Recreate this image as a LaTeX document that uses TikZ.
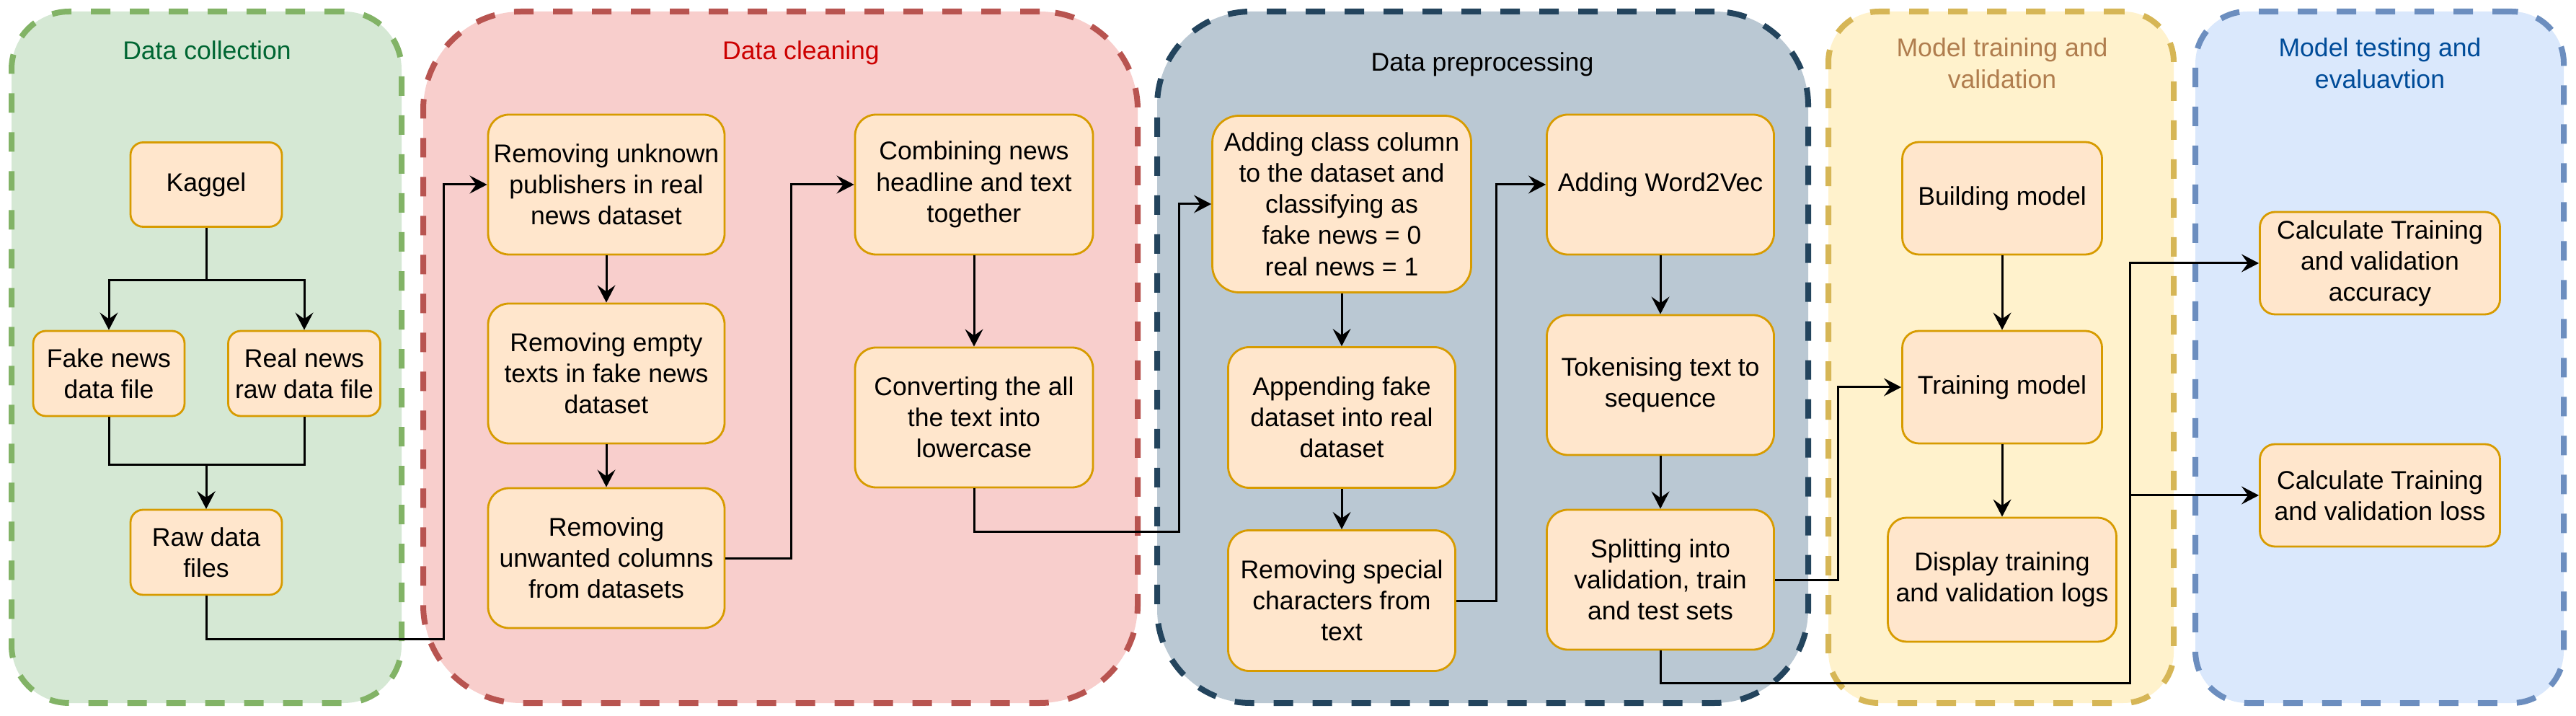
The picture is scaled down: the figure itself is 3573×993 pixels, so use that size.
\documentclass[tikz,border=0pt]{standalone}
\usepackage{fontspec}
\setmainfont{Liberation Sans}
\usetikzlibrary{arrows.meta,calc}
\definecolor{greenfill}{HTML}{D5E8D4}
\definecolor{greenline}{HTML}{82B366}
\definecolor{greentext}{HTML}{006633}
\definecolor{redfill}{HTML}{F8CECC}
\definecolor{redline}{HTML}{B85450}
\definecolor{redtext}{HTML}{CC0000}
\definecolor{dbfill}{HTML}{BAC8D3}
\definecolor{dbline}{HTML}{23445D}
\definecolor{yfill}{HTML}{FFF2CC}
\definecolor{yline}{HTML}{D6B656}
\definecolor{ytext}{HTML}{B07D4E}
\definecolor{bfill}{HTML}{DAE8FC}
\definecolor{bline}{HTML}{6C8EBF}
\definecolor{btext}{HTML}{004C99}
\definecolor{boxfill}{HTML}{FFE6CC}
\definecolor{boxline}{HTML}{D79B00}
\begin{document}
\begin{tikzpicture}[x=0.25pt,y=-0.25pt,
  lane/.style={line width=2pt, dash pattern=on 6.75pt off 6.75pt, inner sep=0pt, minimum height=239.75pt},
  box/.style={draw=boxline, fill=boxfill, line width=0.7pt, rounded corners=#1, align=center, inner sep=0pt, font=\fontsize{8.9pt}{10.8pt}\selectfont},
  arr/.style={draw=black, line width=0.75pt, -{Stealth[length=6pt,width=6.2pt,inset=2.2pt]}},
  ttl/.style={anchor=base, inner sep=0pt, font=\fontsize{8.9pt}{11pt}\selectfont}
]
\useasboundingbox[fill=white] (0,0) rectangle (3573,993);

% containers
\node[lane, draw=greenline, fill=greenfill, rounded corners=20pt, minimum width=135.25pt] (gC) at (286.5,495.5) {};
\node[lane, draw=redline, fill=redfill, rounded corners=34pt, minimum width=247.75pt] (rC) at (1082.5,495.5) {};
\node[lane, draw=dbline, fill=dbfill, rounded corners=32.5pt, minimum width=225.75pt] (dC) at (2056.5,495.5) {};
\node[lane, draw=yline, fill=yfill, rounded corners=17.5pt, minimum width=119.75pt] (yC) at (2775.5,495.5) {};
\node[lane, draw=bline, fill=bfill, rounded corners=18pt, minimum width=127.75pt] (bC) at (3300.5,495.5) {};

% titles
\node[ttl, text=greentext] (tg) at (287,83) {Data collection};
\node[ttl, text=redtext] (tr) at (1111,83) {Data cleaning};
\node[ttl, text=black] (td) at (2056,99) {Data preprocessing};
\node[ttl, text=ytext] (ty1) at (2777,79) {Model training and};
\node[ttl, text=ytext] (ty2) at (2777,123) {validation};
\node[ttl, text=btext] (tb1) at (3301,79) {Model testing and};
\node[ttl, text=btext] (tb2) at (3301,123) {evaluavtion};

% data collection
\node[box=4.4pt, minimum width=52.5pt, minimum height=29.25pt] (kag) at (286,256) {Kaggel};
\node[box=4.4pt, minimum width=52.5pt, minimum height=29.5pt] (fake) at (151,518) {Fake news\\data file};
\node[box=4.4pt, minimum width=52.75pt, minimum height=29.5pt] (real) at (422,518) {Real news\\raw data file};
\node[box=4.4pt, minimum width=52.5pt, minimum height=29.5pt] (raw) at (286,766) {Raw data\\files};

% data cleaning
\node[box=7.25pt, minimum width=82pt, minimum height=48.5pt] (r1) at (841,256) {Removing unknown\\publishers in real\\news dataset};
\node[box=7.25pt, minimum width=82pt, minimum height=48.5pt] (r2) at (841,518) {Removing empty\\texts in fake news\\dataset};
\node[box=7.25pt, minimum width=82pt, minimum height=48.5pt] (r3) at (841,774) {Removing\\unwanted columns\\from datasets};
\node[box=7.25pt, minimum width=82.5pt, minimum height=48.5pt] (r4) at (1351,256) {Combining news\\headline and text\\together};
\node[box=7.25pt, minimum width=82.5pt, minimum height=48.5pt] (r5) at (1351,579) {Converting the all\\the text into\\lowercase};

% data preprocessing
\node[box=9.25pt, minimum width=89.75pt, minimum height=61.25pt] (p1) at (1861,283) {Adding class column\\to the dataset and\\classifying as\\fake news = 0\\real news = 1};
\node[box=7.25pt, minimum width=78.75pt, minimum height=48.75pt] (p2) at (1861,579) {Appending fake\\dataset into real\\dataset};
\node[box=7.25pt, minimum width=78.75pt, minimum height=48.75pt] (p3) at (1861,833) {Removing special\\characters from\\text};
\node[box=7.25pt, minimum width=78.75pt, minimum height=48.5pt] (p4) at (2303,256) {Adding Word2Vec};
\node[box=7.25pt, minimum width=78.75pt, minimum height=48.5pt] (p5) at (2303,534) {Tokenising text to\\sequence};
\node[box=7.25pt, minimum width=78.75pt, minimum height=48.5pt] (p6) at (2303,804) {Splitting into\\validation, train\\and test sets};

% model training
\node[box=5.75pt, minimum width=69.25pt, minimum height=39pt] (m1) at (2777,275) {Building model};
\node[box=5.75pt, minimum width=69.25pt, minimum height=39pt] (m2) at (2777,537) {Training model};
\node[box=6.5pt, minimum width=79.25pt, minimum height=43pt] (m3) at (2777,804) {Display training\\and validation logs};

% model testing
\node[box=5.25pt, minimum width=83.25pt, minimum height=35.5pt] (e1) at (3301,365) {Calculate Training\\and validation\\accuracy};
\node[box=5.25pt, minimum width=83.25pt, minimum height=35.5pt] (e2) at (3301,687) {Calculate Training\\and validation loss};

% connectors
\draw[arr] (kag.south) -- ++(0,73) -| (fake.north);
\draw[arr] (kag.south) -- ++(0,73) -| (real.north);
\draw[arr] (fake.south) -- ++(0,66) -| (raw.north);
\draw[arr] (real.south) -- ++(0,66) -| (raw.north);
\draw[arr] (raw.south) -- ++(0,60) -| ($(r1.west)+(-60,0)$) -- (r1.west);
\draw[arr] (r1) -- (r2);
\draw[arr] (r2) -- (r3);
\draw[arr] (r3.east) -- ++(91,0) |- (r4.west);
\draw[arr] (r4) -- (r5);
\draw[arr] (r5.south) -- ++(0,60) -| ($(p1.west)+(-45,0)$) -- (p1.west);
\draw[arr] (p1) -- (p2);
\draw[arr] (p2) -- (p3);
\draw[arr] (p3.east) -- ++(56,0) |- (p4.west);
\draw[arr] (p4) -- (p5);
\draw[arr] (p5) -- (p6);
\draw[arr] (p6.east) -- ++(88,0) |- (m2.west);
\draw[arr] (m1) -- (m2);
\draw[arr] (m2) -- (m3);
\draw[arr] (p6.south) -- ++(0,45) -| ($(e1.west)+(-179,0)$) -- (e1.west);
\draw[arr] (p6.south) -- ++(0,45) -| ($(e2.west)+(-179,0)$) -- (e2.west);
\end{tikzpicture}
\end{document}
